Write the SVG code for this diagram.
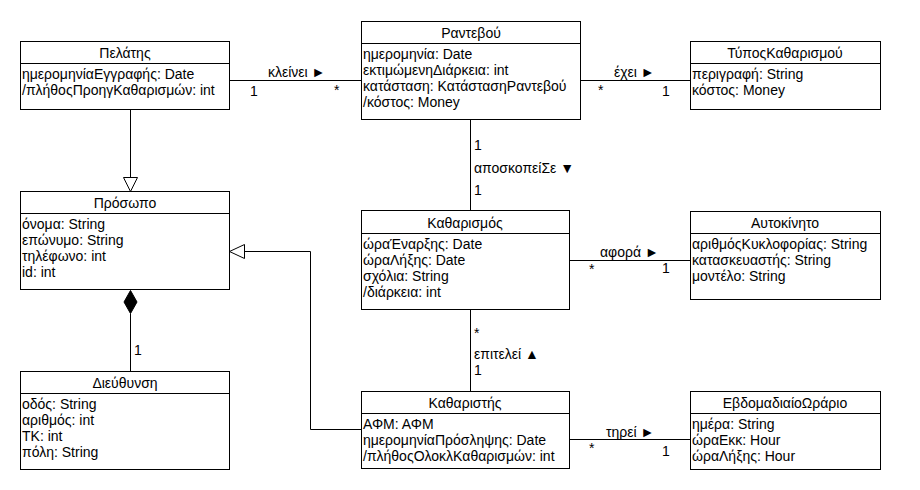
<svg xmlns="http://www.w3.org/2000/svg" width="920" height="490" viewBox="0 0 920 490">
<style>
text{font-family:"Liberation Sans",Arial,Helvetica,sans-serif;font-size:14px;fill:#000}
.t{text-anchor:middle}
.box{fill:#fff;stroke:#000;stroke-width:1}
.ln{fill:none;stroke:#000;stroke-width:1}
</style>
<rect width="920" height="490" fill="#fff"/>
<g id="connectors">
<path class="ln" d="M229.5 80.5H361.5"/>
<path class="ln" d="M580.5 80.5H690.5"/>
<path class="ln" d="M470.5 119.5V210.5"/>
<path class="ln" d="M569.5 260.5H690.5"/>
<path class="ln" d="M470.5 309.5V391.5"/>
<path class="ln" d="M569.5 439.5H690.5"/>
<path class="ln" d="M130.5 109.5V177.5"/>
<path class="ln" d="M123.5 177.5H137.5L130.5 191.5Z" fill="#fff"/>
<path class="ln" d="M361.5 429.5H310.5V251.5H244.5"/>
<path class="ln" d="M244.5 244.5V258.5L229.5 251.5Z" fill="#fff"/>
<path class="ln" d="M130.5 313.5V371.5"/>
<path d="M130.5 290.5L137 302L130.5 313.5L124 302Z" fill="#000" stroke="#000"/>
<text x="268" y="77">κλείνει ►</text>
<text x="250" y="96">1</text>
<text x="334" y="95">*</text>
<text x="614" y="77">έχει ►</text>
<text x="598" y="95">*</text>
<text x="662" y="96">1</text>
<text x="474" y="150">1</text>
<text x="474" y="173">αποσκοπείΣε ▼</text>
<text x="474" y="195">1</text>
<text x="600" y="257">αφορά ►</text>
<text x="589" y="274">*</text>
<text x="662" y="273">1</text>
<text x="474" y="338">*</text>
<text x="474" y="359">επιτελεί ▲</text>
<text x="474" y="375">1</text>
<text x="606" y="437">τηρεί ►</text>
<text x="589" y="453">*</text>
<text x="662" y="456">1</text>
<text x="134" y="355">1</text>
</g>
<g id="Pelatis">
<rect class="box" x="20.5" y="41.5" width="209" height="68"/>
<path class="ln" d="M20.5 63.5H229.5"/>
<text class="t" x="125" y="58">Πελάτης</text>
<text x="22" y="79">ημερομηνίαΕγγραφής: Date</text>
<text x="22" y="95">/πλήθοςΠροηγΚαθαρισμών: int</text>
</g>
<g id="Rantevou">
<rect class="box" x="361.5" y="21.5" width="219" height="98"/>
<path class="ln" d="M361.5 43.5H580.5"/>
<text class="t" x="471" y="38">Ραντεβού</text>
<text x="363" y="59">ημερομηνία: Date</text>
<text x="363" y="75">εκτιμώμενηΔιάρκεια: int</text>
<text x="363" y="91">κατάσταση: ΚατάστασηΡαντεβού</text>
<text x="363" y="107">/κόστος: Money</text>
</g>
<g id="TyposKatharismou">
<rect class="box" x="690.5" y="41.5" width="190" height="68"/>
<path class="ln" d="M690.5 63.5H880.5"/>
<text class="t" x="785" y="58">ΤύποςΚαθαρισμού</text>
<text x="692" y="79">περιγραφή: String</text>
<text x="692" y="95">κόστος: Money</text>
</g>
<g id="Prosopo">
<rect class="box" x="20.5" y="191.5" width="209" height="98"/>
<path class="ln" d="M20.5 213.5H229.5"/>
<text class="t" x="125" y="208">Πρόσωπο</text>
<text x="22" y="229">όνομα: String</text>
<text x="22" y="245">επώνυμο: String</text>
<text x="22" y="261">τηλέφωνο: int</text>
<text x="22" y="277">id: int</text>
</g>
<g id="Katharismos">
<rect class="box" x="361.5" y="210.5" width="208" height="99"/>
<path class="ln" d="M361.5 233.5H569.5"/>
<text class="t" x="465" y="228">Καθαρισμός</text>
<text x="363" y="249">ώραΈναρξης: Date</text>
<text x="363" y="265">ώραΛήξης: Date</text>
<text x="363" y="281">σχόλια: String</text>
<text x="363" y="297">/διάρκεια: int</text>
</g>
<g id="Aftokinito">
<rect class="box" x="690.5" y="211.5" width="190" height="88"/>
<path class="ln" d="M690.5 233.5H880.5"/>
<text class="t" x="785" y="228">Αυτοκίνητο</text>
<text x="692" y="249">αριθμόςΚυκλοφορίας: String</text>
<text x="692" y="265">κατασκευαστής: String</text>
<text x="692" y="281">μοντέλο: String</text>
</g>
<g id="Dieftynsi">
<rect class="box" x="20.5" y="371.5" width="209" height="98"/>
<path class="ln" d="M20.5 393.5H229.5"/>
<text class="t" x="125" y="388">Διεύθυνση</text>
<text x="22" y="409">οδός: String</text>
<text x="22" y="425">αριθμός: int</text>
<text x="22" y="441">ΤΚ: int</text>
<text x="22" y="457">πόλη: String</text>
</g>
<g id="Katharistis">
<rect class="box" x="361.5" y="391.5" width="208" height="77"/>
<path class="ln" d="M361.5 413.5H569.5"/>
<text class="t" x="465" y="408">Καθαριστής</text>
<text x="363" y="429">ΑΦΜ: ΑΦΜ</text>
<text x="363" y="445">ημερομηνίαΠρόσληψης: Date</text>
<text x="363" y="461">/πλήθοςΟλοκλΚαθαρισμών: int</text>
</g>
<g id="EvdomadiaioOrario">
<rect class="box" x="690.5" y="391.5" width="190" height="78"/>
<path class="ln" d="M690.5 413.5H880.5"/>
<text class="t" x="785" y="408">ΕβδομαδιαίοΩράριο</text>
<text x="692" y="429">ημέρα: String</text>
<text x="692" y="445">ώραΕκκ: Hour</text>
<text x="692" y="461">ώραΛήξης: Hour</text>
</g>
</svg>
